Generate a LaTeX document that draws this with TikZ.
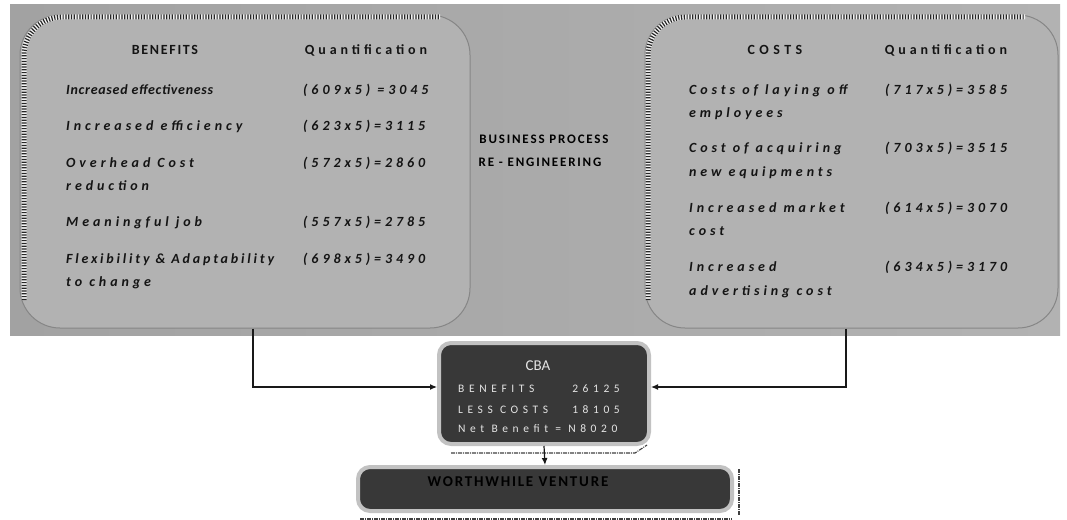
\documentclass[tikz,border=0pt]{standalone}
\usepackage{fontspec}
\setmainfont{Carlito}
\newfontfamily\itemfont[LetterSpace=28]{Carlito}
\newfontfamily\medfont[LetterSpace=20]{Carlito}
\newfontfamily\tightfont[LetterSpace=5]{Carlito}
\newfontfamily\hdrfont[LetterSpace=12]{Carlito}
\newfontfamily\costfont[LetterSpace=32]{Carlito}
\newfontfamily\cbafont[LetterSpace=40]{Carlito}
\newfontfamily\midfont[LetterSpace=14]{Carlito}
\usetikzlibrary{arrows.meta,calc}
\definecolor{boxgray}{HTML}{B2B2B2}
\definecolor{boxedge}{HTML}{868686}
\definecolor{bgleft}{HTML}{A2A2A2}
\definecolor{bgmid}{HTML}{DCDCDC}
\definecolor{bgright}{HTML}{B2B2B2}
\definecolor{darkfill}{HTML}{383838}
\definecolor{lightedge}{HTML}{C2C2C2}
\definecolor{inktext}{HTML}{141414}
\definecolor{cbatext}{HTML}{E4E4E4}
\begin{document}
\begin{tikzpicture}[x=1pt,y=-1pt,
  bigbox/.style={draw=boxedge, line width=1pt, fill=boxgray, rounded corners=40pt, inner sep=0pt},
  darkbox/.style={draw=lightedge, line width=4pt, fill=darkfill, rounded corners=12pt, inner sep=0pt},
  stripeback/.style={draw=white!95!black, line width=5pt, rounded corners=38pt},
  stripe/.style={draw=black!85, line width=5pt, dash pattern=on 1.2pt off 1.6pt, rounded corners=38pt},
  shadowline/.style={draw=black!75, line width=1.1pt, dash pattern=on 4pt off 1pt on 1pt off 1pt},
  conn/.style={draw=black!90, line width=1.2pt, -{Latex[length=7pt,width=6pt]}},
  txt/.style={inner sep=0pt, text height=9pt, text depth=3pt, text=inktext},
  itm/.style={txt, anchor=west, font=\itemfont\bfseries\itshape\fontsize{14}{16}\selectfont},
  itmmed/.style={txt, anchor=west, font=\medfont\bfseries\itshape\fontsize{14}{16}\selectfont},
  itmtight/.style={txt, anchor=west, font=\tightfont\bfseries\itshape\fontsize{14}{16}\selectfont},
  hdr/.style={txt, font=\hdrfont\bfseries\fontsize{14}{16}\selectfont},
  costhdr/.style={txt, font=\costfont\bfseries\fontsize{14}{16}\selectfont},
  qhdr/.style={txt, font=\itemfont\bfseries\fontsize{14}{16}\selectfont},
  mid/.style={txt, font=\midfont\bfseries\fontsize{13}{15}\selectfont, text=black},
  cbat/.style={txt, text=cbatext, font=\cbafont\fontsize{11.5}{13}\selectfont},
  ]
\useasboundingbox (0,0) rectangle (1067,519);
\fill[white] (0,0) rectangle (1067,519);
% background panel
\shade[left color=bgleft, middle color=bgmid, right color=bgright] (10,5) rectangle (1060,335);

% big boxes
\node[bigbox, minimum width=450pt, minimum height=313pt] (ben) at (245,171.5) {};
\node[bigbox, minimum width=413pt, minimum height=313pt] (cost) at (851.5,171.5) {};

% striped top-left edges
\draw[stripeback] (24,300) -- (24,17) -- (440,17);
\draw[stripe] (24,300) -- (24,17) -- (440,17);
\draw[stripeback] (648,300) -- (648,17) -- (1025,17);
\draw[stripe] (648,300) -- (648,17) -- (1025,17);

% benefits box content
\node[hdr] (bh) at (165,52) {BENEFITS};
\node[qhdr] (bq) at (366,52) {Quantification};
\node[itmtight] (b1) at (66,91) {Increased effectiveness};
\node[itm] (b2) at (66,127) {Increased efficiency};
\node[itm] (b3) at (66,164) {Overhead Cost};
\node[itm] (b3b) at (66,187) {reduction};
\node[itm] (b4) at (66,223) {Meaningful job};
\node[itmmed] (b5) at (66,260) {Flexibility \& Adaptability};
\node[itm] (b5b) at (66,283) {to change};
\node[itm] (v1) at (303,91) {(609x5) =3045};
\node[itm] (v2) at (303,127) {(623x5)=3115};
\node[itm] (v3) at (303,164) {(572x5)=2860};
\node[itm] (v4) at (303,223) {(557x5)=2785};
\node[itm] (v5) at (303,260) {(698x5)=3490};

% middle label
\node[mid] (m1) at (544,140) {BUSINESS PROCESS};
\node[mid] (m2) at (540,163) {RE - ENGINEERING};

% costs box content
\node[costhdr] (ch) at (775,52) {COSTS};
\node[qhdr] (cq) at (946,52) {Quantification};
\node[itm] (c1) at (689,91) {Costs of laying off};
\node[itm] (c1b) at (689,114) {employees};
\node[itm] (c2) at (689,149) {Cost of acquiring};
\node[itm] (c2b) at (689,173) {new equipments};
\node[itm] (c3) at (689,209) {Increased market};
\node[itm] (c3b) at (689,232) {cost};
\node[itm] (c4) at (689,268) {Increased};
\node[itm] (c4b) at (689,292) {advertising cost};
\node[itm] (w1) at (885,91) {(717x5)=3585};
\node[itm] (w2) at (885,149) {(703x5)=3515};
\node[itm] (w3) at (885,209) {(614x5)=3070};
\node[itm] (w4) at (885,268) {(634x5)=3170};

% CBA box
\node[darkbox, minimum width=210pt, minimum height=101pt] (cba) at (544,393.5) {};
\draw[shadowline] ($(cba.south west)+(14,7)$) -- ($(cba.south east)+(-16,7)$) -- ($(cba.south east)+(-4,-1)$);
\node[txt, text=cbatext, font=\fontsize{15}{17}\selectfont] (cbat) at (538,367) {CBA};
\node[cbat, anchor=west] (r1) at (458,389) {BENEFITS};
\node[cbat, anchor=east] (r1v) at (620,389) {26125};
\node[cbat, anchor=west] (r2) at (458,410) {LESS COSTS};
\node[cbat, anchor=east] (r2v) at (620,410) {18105};
\node[cbat, anchor=west] (r3) at (458,429) {Net Benefit = N8020};

% worthwhile box
\node[darkbox, minimum width=374pt, minimum height=44pt] (wv) at (545,489) {};
\draw[shadowline] ($(wv.south west)+(4,6)$) -- ($(wv.south east)+(-2,6)$);
\draw[shadowline] ($(wv.north east)+(5,4)$) -- ($(wv.south east)+(5,2)$);
\node[txt, text=black, font=\hdrfont\bfseries\fontsize{15}{17}\selectfont] (wvt) at (518,483) {WORTHWHILE VENTURE};

% connectors
\coordinate (lx) at (253,0);
\coordinate (rx) at (846,0);
\coordinate (ay) at (0,387);
\draw[conn] (ben.south -| lx) |- (cba.west |- ay);
\draw[conn] (cost.south -| rx) |- (cba.east |- ay);
\draw[conn] (cba.south) -- (wv.north);
\end{tikzpicture}
\end{document}
